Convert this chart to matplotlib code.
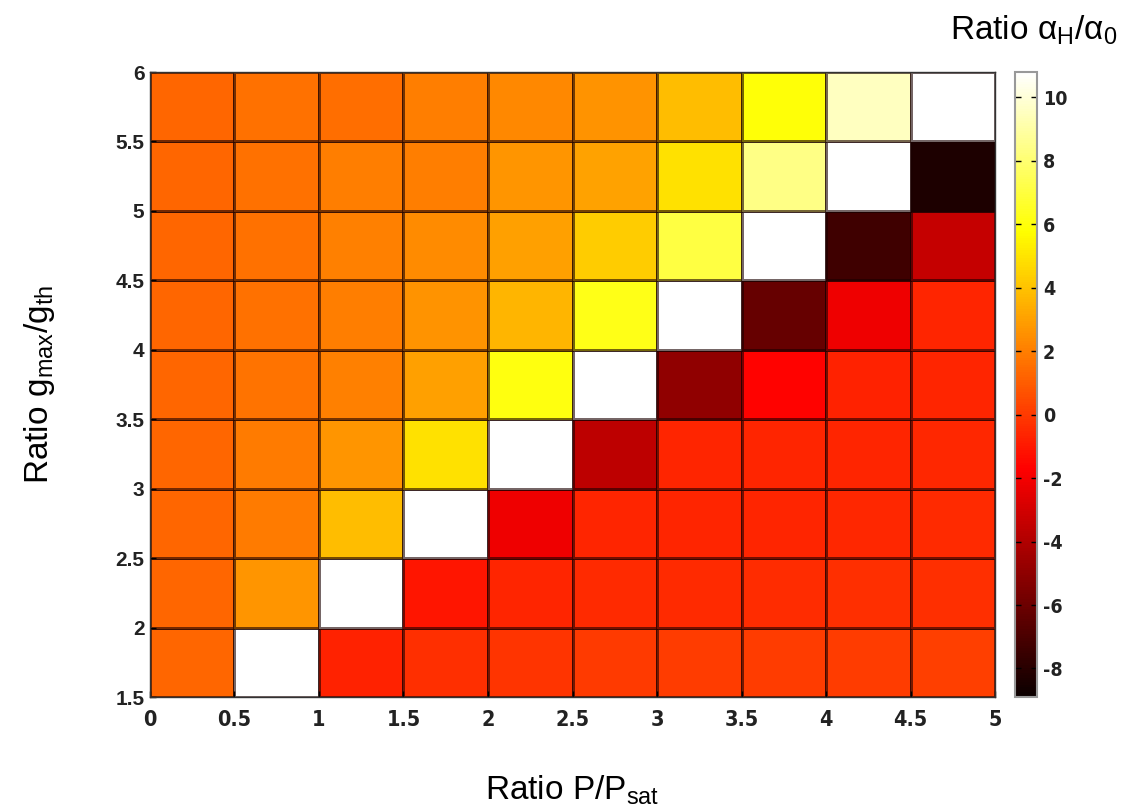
import matplotlib
matplotlib.use("Agg")
import matplotlib.pyplot as plt
import numpy as np

plt.rcParams['font.family'] = ['Liberation Sans', 'DejaVu Sans']
plt.rcParams['mathtext.fontset'] = 'custom'
plt.rcParams['mathtext.rm'] = 'Liberation Sans'
plt.rcParams['mathtext.it'] = 'Liberation Sans:italic'
plt.rcParams['axes.unicode_minus'] = False

# grid edges
p_edges = [0, 0.5, 1, 1.5, 2, 2.5, 3, 3.5, 4, 4.5, 5]
g_edges = [1.5, 2, 2.5, 3, 3.5, 4, 4.5, 5, 5.5, 6]

# alpha_H / alpha_0, one row per g band (bottom to top), one value per P band
row_g_1_5 = [1.3, 11.0, -0.7, -0.3, -0.15, -0.05, 0.05, 0.08, 0.1, 0.12]
row_g_2_0 = [1.3, 2.7, 11.0, -1.1, -0.6, -0.5, -0.45, -0.4, -0.35, -0.3]
row_g_2_5 = [1.3, 1.95, 3.8, 11.0, -2.2, -0.6, -0.6, -0.6, -0.55, -0.45]
row_g_3_0 = [1.3, 1.9, 2.7, 4.9, 11.0, -3.6, -0.6, -0.6, -0.6, -0.55]
row_g_3_5 = [1.3, 1.7, 2.05, 3.0, 6.1, 11.0, -4.9, -1.6, -0.7, -0.6]
row_g_4_0 = [1.3, 1.6, 2.0, 2.6, 3.6, 6.2, 11.0, -6.2, -2.2, -0.6]
row_g_4_5 = [1.3, 1.6, 2.05, 2.35, 3.0, 4.3, 7.1, 11.0, -7.3, -3.4]
row_g_5_0 = [1.3, 1.6, 2.0, 2.0, 2.7, 3.1, 4.9, 8.4, 11.0, -8.3]
row_g_5_5 = [1.3, 1.6, 1.55, 2.0, 2.3, 2.6, 3.8, 5.9, 9.5, 11.0]

ratio = np.array([row_g_1_5, row_g_2_0, row_g_2_5, row_g_3_0, row_g_3_5,
                  row_g_4_0, row_g_4_5, row_g_5_0, row_g_5_5])

cbar_ticks = [-8, -6, -4, -2, 0, 2, 4, 6, 8, 10]

fig = plt.figure(figsize=(11.31, 8.09), dpi=100)
ax = fig.add_axes([0.1326, 0.1384, 0.7472, 0.7726])
cax = fig.add_axes([0.897, 0.1384, 0.0203, 0.7726])

mesh = ax.pcolormesh(p_edges, g_edges, ratio, cmap='hot', vmin=-8.9, vmax=10.8,
                     edgecolors=(0.1, 0, 0, 0.6), linewidth=0.9)
ax.set_xlim(0, 5)
ax.set_ylim(1.5, 6)
ax.set_xticks(p_edges)
ax.set_yticks(g_edges)
ax.set_xticklabels(['0', '0.5', '1', '1.5', '2', '2.5', '3', '3.5', '4', '4.5', '5'])
ax.set_yticklabels(['1.5', '2', '2.5', '3', '3.5', '4', '4.5', '5', '5.5', '6'])

narrow = ['Liberation Sans Narrow', 'DejaVu Sans']
for lbl in ax.get_xticklabels():
    lbl.set(family=narrow, stretch='condensed', weight='bold', size=15.5,
            color='#222222')
for lbl in ax.get_yticklabels():
    lbl.set(family=['Liberation Sans', 'DejaVu Sans'], weight='bold', size=15,
            color='#222222')
ax.tick_params(axis='x', direction='in', length=4, width=1, pad=9)
ax.tick_params(axis='y', direction='in', length=4, width=1, pad=4)
for sp in ax.spines.values():
    sp.set_linewidth(1.0)
    sp.set_color('#333333')

ax.set_xlabel('Ratio P/P$_\\mathrm{sat}$', fontsize=24, labelpad=32)
ax.set_ylabel('Ratio g$_\\mathrm{max}$/g$_\\mathrm{th}$', fontsize=24, labelpad=42)

cb = fig.colorbar(mesh, cax=cax, ticks=cbar_ticks)
cb.outline.set_edgecolor('#999999')
cb.outline.set_linewidth(1.5)
cax.tick_params(direction='in', length=4, width=1, pad=4, left=True, right=True)
for lbl in cax.get_yticklabels():
    lbl.set(family=narrow, stretch='condensed', weight='bold', size=14,
            color='#222222')

fig.text(0.988, 0.962, 'Ratio α$_\\mathrm{H}$/α$_\\mathrm{0}$', fontsize=24,
         ha='right', va='center')

fig.savefig('out.png', dpi=100)
